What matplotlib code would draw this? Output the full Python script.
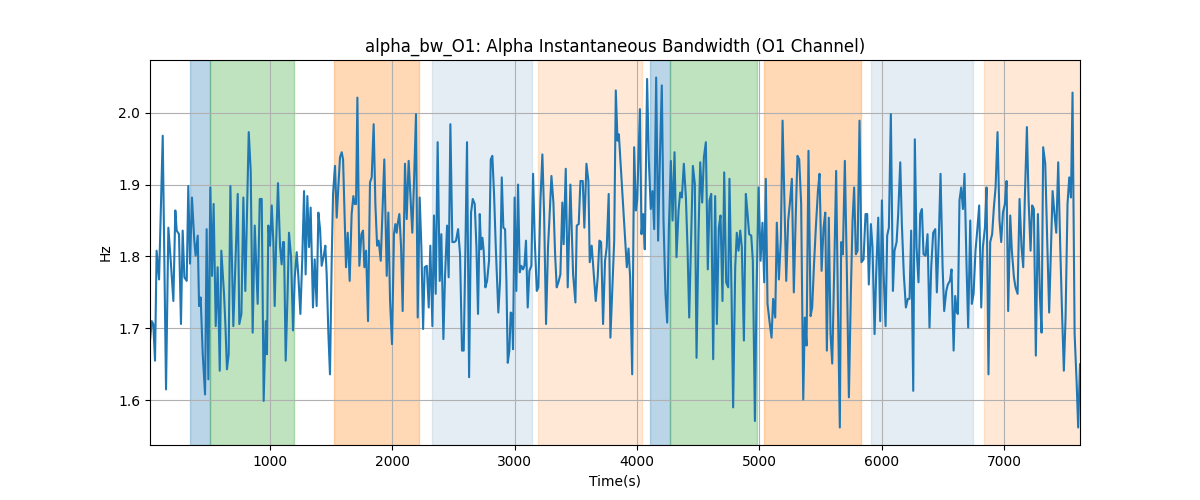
import matplotlib
matplotlib.use('Agg')
import matplotlib.pyplot as plt
import numpy as np

# time (s) and bandwidth (Hz)
t = [
    19, 33, 46, 60, 73, 93, 123, 150, 169, 188, 210, 226, 237, 256, 272, 286, 300, 319,
    332, 346, 362, 381, 392, 409, 420, 433, 450, 469, 482, 496, 512, 526, 539, 556, 572,
    589, 602, 624, 635, 648, 662, 676, 700, 736, 749, 766, 782, 798, 826, 842, 858, 875,
    899, 916, 932, 948, 965, 975,
    986, 1000, 1014, 1027, 1038, 1049, 1065, 1082, 1095, 1106, 1114, 1128, 1144, 1155,
    1172, 1188, 1202, 1218, 1232, 1248, 1264, 1278, 1291, 1305, 1319, 1332, 1351, 1365,
    1381, 1395, 1409, 1422, 1439, 1452, 1463, 1477, 1490, 1504, 1515, 1531, 1545, 1558,
    1572, 1586, 1597, 1621, 1635, 1651, 1667, 1681, 1692, 1703, 1714, 1730, 1747, 1760,
    1771, 1785, 1801, 1817, 1831, 1847, 1861, 1875, 1888, 1905,
    1934, 1954, 1967, 1981, 1997, 2013, 2024, 2035, 2043, 2057, 2071, 2084, 2103, 2117,
    2133, 2150, 2163, 2177, 2193, 2207, 2223, 2237, 2251, 2264, 2281, 2297, 2310, 2327,
    2340, 2354, 2370, 2387, 2400, 2417, 2430, 2447, 2460, 2474, 2490, 2507, 2520, 2537,
    2553, 2569, 2583, 2597, 2610, 2627, 2643, 2657, 2673, 2687, 2700, 2714, 2725, 2736,
    2746, 2760, 2774, 2790, 2804, 2817, 2831, 2845,
    2866, 2880, 2894, 2907, 2921, 2932, 2943, 2956, 2967, 2978, 2986, 2999, 3013, 3027,
    3041, 3054, 3068, 3079, 3092, 3106, 3120, 3136, 3150, 3163, 3180, 3193, 3210, 3226,
    3240, 3256, 3272, 3283, 3300, 3316, 3330, 3343, 3357, 3373, 3389, 3400, 3417, 3433,
    3455, 3477, 3496, 3507, 3523, 3537, 3556, 3569, 3586, 3602, 3613, 3629, 3646, 3662,
    3678, 3692, 3706, 3722, 3738, 3752, 3768, 3782,
    3813, 3826, 3840, 3851, 3916, 3930, 3943, 3960, 3976, 3990, 4001, 4023, 4036, 4050,
    4063, 4082, 4096, 4112, 4126, 4140, 4156, 4172, 4186, 4202, 4216, 4232, 4246, 4260,
    4276, 4290, 4306, 4322, 4339, 4352, 4366, 4382, 4399, 4412, 4426, 4442, 4456, 4472,
    4486, 4502, 4516, 4532, 4546, 4562, 4578, 4592, 4606, 4622, 4638, 4652, 4668, 4682,
    4698, 4712, 4728,
    4745, 4755, 4772, 4785, 4802, 4815, 4829, 4843, 4856, 4873, 4889, 4903, 4916, 4933,
    4946, 4963, 4976, 4993, 5009, 5025, 5039, 5052, 5066, 5082, 5099, 5112, 5129, 5142,
    5159, 5175, 5189, 5205, 5219, 5235, 5251, 5265, 5281, 5298, 5311, 5325, 5341, 5358,
    5371, 5385, 5401, 5418, 5431, 5445, 5461, 5478, 5491, 5508, 5524, 5538, 5551, 5567,
    5581, 5595, 5611, 5627, 5641, 5657, 5668,
    5682, 5698, 5714, 5731, 5747, 5761, 5774, 5788, 5802, 5818, 5834, 5851, 5867, 5881,
    5894, 5911, 5924, 5941, 5954, 5971, 5987, 6001, 6014, 6031, 6044, 6058, 6074, 6091,
    6104, 6121, 6134, 6151, 6164, 6180, 6197, 6213, 6227, 6240, 6257, 6270, 6284, 6300,
    6314, 6328, 6341, 6358, 6374, 6390, 6404, 6420, 6437, 6450, 6467, 6480, 6497, 6510,
    6527, 6540, 6557, 6570, 6587, 6600, 6614,
    6622, 6635, 6649, 6663, 6676, 6693, 6706, 6723, 6736, 6750, 6766, 6780, 6796, 6813,
    6826, 6843, 6856, 6872, 6886, 6902, 6916, 6930, 6946, 6962, 6976, 6990, 7006, 7020,
    7033, 7050, 7063, 7080, 7093, 7110, 7126, 7142, 7156, 7170, 7186, 7200, 7216, 7229,
    7243, 7259, 7276, 7292, 7306, 7319, 7336, 7352, 7368, 7382, 7396, 7409, 7426, 7442,
    7458, 7472, 7488, 7502, 7518, 7532, 7546, 7559, 7576, 7592, 7605, 7620,
]

bw = [
    1.683, 1.710, 1.706, 1.655, 1.808, 1.768, 1.968, 1.615, 1.840, 1.795, 1.738, 1.864,
    1.836, 1.831, 1.706, 1.836, 1.771, 1.766, 1.898, 1.790, 1.882, 1.822, 1.801, 1.829,
    1.731, 1.743, 1.664, 1.608, 1.838, 1.629, 1.896, 1.773, 1.873, 1.703, 1.785, 1.641,
    1.808, 1.748, 1.706, 1.643, 1.664, 1.898, 1.703, 1.887, 1.706, 1.720, 1.882, 1.752,
    1.973, 1.919, 1.694, 1.843, 1.734, 1.880, 1.880, 1.599, 1.710, 1.664,
    1.843, 1.815, 1.871, 1.820, 1.731, 1.813, 1.902, 1.813, 1.789, 1.820, 1.820, 1.655,
    1.752, 1.833, 1.799, 1.697, 1.771, 1.806, 1.771, 1.720, 1.799, 1.891, 1.775, 1.884,
    1.813, 1.868, 1.729, 1.796, 1.731, 1.861, 1.838, 1.787, 1.801, 1.815, 1.775, 1.692,
    1.636, 1.794, 1.887, 1.926, 1.854, 1.896, 1.938, 1.945, 1.935, 1.785, 1.833, 1.766,
    1.859, 1.884, 1.873, 1.873, 2.021, 1.787, 1.831, 1.836, 1.785, 1.808, 1.710, 1.903,
    1.910, 1.984, 1.873, 1.815, 1.822, 1.794,
    1.935, 1.773, 1.861, 1.738, 1.678, 1.831, 1.845, 1.833, 1.845, 1.859, 1.813, 1.724,
    1.929, 1.852, 1.933, 1.878, 1.833, 1.905, 1.998, 1.715, 1.882, 1.813, 1.699, 1.785,
    1.787, 1.729, 1.815, 1.703, 1.857, 1.748, 1.959, 1.766, 1.831, 1.685, 1.771, 1.843,
    1.771, 1.984, 1.820, 1.820, 1.822, 1.838, 1.803, 1.669, 1.669, 1.813, 1.959, 1.632,
    1.861, 1.880, 1.873, 1.813, 1.720, 1.859, 1.810, 1.826, 1.808, 1.757, 1.766, 1.794,
    1.935, 1.940, 1.887, 1.813,
    1.722, 1.766, 1.910, 1.840, 1.838, 1.766, 1.652, 1.669, 1.722, 1.720, 1.671, 1.882,
    1.752, 1.900, 1.778, 1.787, 1.782, 1.787, 1.822, 1.729, 1.780, 1.787, 1.915, 1.826,
    1.752, 1.757, 1.878, 1.942, 1.859, 1.706, 1.813, 1.850, 1.912, 1.875, 1.803, 1.757,
    1.764, 1.775, 1.875, 1.817, 1.922, 1.757, 1.900, 1.775, 1.736, 1.843, 1.845, 1.905,
    1.905, 1.840, 1.929, 1.905, 1.792, 1.815, 1.775, 1.738, 1.771, 1.822, 1.820, 1.706,
    1.794, 1.813, 1.887, 1.687,
    1.822, 2.031, 1.961, 1.970, 1.785, 1.811, 1.771, 1.636, 1.952, 1.864, 1.878, 2.005,
    1.831, 1.859, 1.810, 2.047, 1.933, 1.866, 1.891, 1.838, 2.049, 1.822, 1.933, 2.038,
    1.850, 1.748, 1.708, 1.840, 1.933, 1.850, 1.945, 1.799, 1.864, 1.889, 1.882, 1.929,
    1.882, 1.813, 1.715, 1.829, 1.926, 1.901, 1.659, 1.831, 1.931, 1.875, 1.938, 1.959,
    1.782, 1.878, 1.887, 1.657, 1.884, 1.706, 1.840, 1.857, 1.738, 1.917, 1.764,
    1.757, 1.908, 1.748, 1.590, 1.785, 1.833, 1.808, 1.836, 1.813, 1.683, 1.887, 1.859,
    1.831, 1.829, 1.794, 1.571, 1.748, 1.896, 1.794, 1.847, 1.764, 1.908, 1.734, 1.710,
    1.687, 1.741, 1.715, 1.847, 1.768, 1.824, 1.989, 1.873, 1.766, 1.850, 1.878, 1.908,
    1.750, 1.864, 1.940, 1.935, 1.873, 1.601, 1.715, 1.676, 1.947, 1.717, 1.729, 1.785,
    1.840, 1.891, 1.915, 1.780, 1.840, 1.861, 1.669, 1.854, 1.692, 1.651, 1.780, 1.919,
    1.738, 1.562, 1.820,
    1.803, 1.933, 1.785, 1.604, 1.748, 1.850, 1.896, 1.803, 1.808, 1.989, 1.792, 1.796,
    1.859, 1.859, 1.761, 1.845, 1.813, 1.692, 1.775, 1.854, 1.710, 1.878, 1.780, 1.703,
    1.829, 1.840, 1.998, 1.752, 1.808, 1.820, 1.859, 1.931, 1.845, 1.775, 1.729, 1.741,
    1.741, 1.836, 1.613, 1.963, 1.813, 1.764, 1.859, 1.866, 1.803, 1.801, 1.831, 1.701,
    1.785, 1.833, 1.838, 1.750, 1.831, 1.915, 1.785, 1.724, 1.752, 1.761, 1.766, 1.782,
    1.669, 1.745, 1.722,
    1.720, 1.878, 1.896, 1.866, 1.915, 1.785, 1.701, 1.850, 1.734, 1.748, 1.808, 1.836,
    1.871, 1.729, 1.813, 1.840, 1.896, 1.636, 1.820, 1.831, 1.868, 1.896, 1.973, 1.850,
    1.820, 1.861, 1.873, 1.905, 1.724, 1.857, 1.808, 1.771, 1.757, 1.748, 1.880, 1.813,
    1.785, 1.887, 1.980, 1.878, 1.808, 1.871, 1.866, 1.662, 1.859, 1.748, 1.694, 1.952,
    1.929, 1.822, 1.722, 1.808, 1.891, 1.864, 1.833, 1.931, 1.817, 1.729, 1.641, 1.715,
    1.873, 1.910, 1.882, 2.028, 1.692, 1.627, 1.562, 1.650,
]

# shaded intervals: (start, end, colour, alpha)
span_start = [346, 507, 1523, 2324, 3190, 4107, 4273, 5039, 5913, 6832]
span_end = [507, 1193, 2218, 3139, 4044, 4273, 4982, 5829, 6744, 7640]
span_color = ['tab:blue', 'tab:green', 'tab:orange', 'steelblue', 'tab:orange',
              'tab:blue', 'tab:green', 'tab:orange', 'steelblue', 'tab:orange']
span_alpha = [0.3, 0.3, 0.3, 0.14, 0.17, 0.3, 0.3, 0.3, 0.14, 0.17]

fig, ax = plt.subplots(figsize=(12, 5), dpi=100)

for s, e, c, a in zip(span_start, span_end, span_color, span_alpha):
    ax.axvspan(s, e, color=c, alpha=a)

ax.plot(t, bw, color='tab:blue', linewidth=1.5)

ax.set_xlim(t[0], t[-1])
ax.set_title('alpha_bw_O1: Alpha Instantaneous Bandwidth (O1 Channel)')
ax.set_xlabel('Time(s)')
ax.set_ylabel('Hz')
ax.grid(True)

plt.savefig('out.png', dpi=100)
